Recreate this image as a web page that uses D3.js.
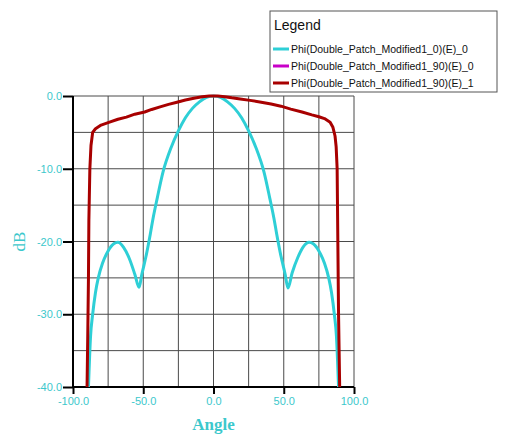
<!DOCTYPE html>
<html>
<head>
<meta charset="utf-8">
<script src="https://cdn.jsdelivr.net/npm/d3@7"></script>
<style>
  body { margin: 0; background: #fff; }
</style>
</head>
<body>
<div id="chart"></div>
<script>
// series: angle (deg) and gain (dB)
const cyanAngle = [-89, -87.5, -86, -84, -82, -79, -75, -71, -68, -64, -60, -56, -53, -51, -48, -45, -43, -40, -36, -30, -25, -20, -15, -10, -5, 0, 5, 10, 15, 20, 25, 30, 36, 40, 43, 45, 48, 51, 53, 56, 60, 64, 68, 71, 75, 79, 82, 84, 86, 87.5, 89]
const cyanDb = [-40, -33, -30, -27, -25, -23, -21.3, -20.3, -20.1, -20.8, -22.3, -24.5, -26.3, -24.5, -22, -19, -16.8, -14, -10.5, -7, -4.8, -3, -1.7, -0.8, -0.2, 0, -0.2, -0.8, -1.7, -3, -4.8, -7, -10.5, -14, -16.8, -19, -22, -24.5, -26.4, -24.3, -22.2, -20.7, -20.1, -20.3, -21.3, -23, -25, -27, -30, -33, -40]

const redAngle = [-90, -89.5, -89, -88.7, -88, -87.2, -86, -84, -80, -74, -68, -62, -56, -49, -44, -38, -32, -26, -20, -14, -8, -3, 3, 8, 13, 19, 26, 34, 41, 48, 55, 63, 70, 75, 79, 83, 85, 86.5, 87.3, 88, 88.5, 89, 89.8]
const redDb = [-40, -33, -25, -17, -10, -6.8, -5, -4.5, -4, -3.6, -3.2, -2.9, -2.5, -2.2, -1.85, -1.5, -1.15, -0.85, -0.55, -0.3, -0.1, 0, 0, -0.1, -0.25, -0.4, -0.6, -0.85, -1.1, -1.4, -1.8, -2.2, -2.6, -2.85, -3.1, -3.6, -4.3, -5.5, -7, -10, -20, -30, -40]

const legendNames = [
  'Phi(Double_Patch_Modified1_0)(E)_0',
  'Phi(Double_Patch_Modified1_90)(E)_0',
  'Phi(Double_Patch_Modified1_90)(E)_1'
]
const legendColors = ['#2ecfd6', '#c800c8', '#a80000']

const xTicks = [-100, -50, 0, 50, 100]
const yTicks = [0, -10, -20, -30, -40]
const xGrid = [-75, -50, -25, 0, 25, 50, 75, 100]
const yGrid = [0, -5, -10, -15, -20, -25, -30, -35]

const labelColor = '#3cc8cc'
const fmt = d => d.toFixed(1)   // plain hyphen minus, like the original

const W = 520, H = 440
const svg = d3.select('#chart').append('svg')
  .attr('width', W).attr('height', H)
  .style('font-family', 'Arial, "Liberation Sans", sans-serif')

const x = d3.scaleLinear().domain([-100, 100]).range([73, 354])
const y = d3.scaleLinear().domain([-40, 0]).range([387, 96])

// grid
svg.append('g').selectAll('line').data(xGrid).join('line')
  .attr('x1', d => x(d)).attr('x2', d => x(d))
  .attr('y1', y(0)).attr('y2', y(-40))
  .attr('stroke', '#4a4a4a').attr('stroke-width', 1)
svg.append('g').selectAll('line').data(yGrid).join('line')
  .attr('x1', x(-100)).attr('x2', x(100))
  .attr('y1', d => y(d)).attr('y2', d => y(d))
  .attr('stroke', '#4a4a4a').attr('stroke-width', 1)

// axes
const xAxis = svg.append('g')
  .attr('transform', `translate(0,${y(-40)})`)
  .call(d3.axisBottom(x).tickValues(xTicks).tickSize(7).tickPadding(3).tickFormat(fmt))
const yAxis = svg.append('g')
  .attr('transform', `translate(${x(-100)},0)`)
  .call(d3.axisLeft(y).tickValues(yTicks).tickSize(10).tickPadding(1).tickFormat(fmt))

for (const ax of [xAxis, yAxis]) {
  ax.select('.domain').attr('stroke', '#000').attr('stroke-width', 2)
  ax.selectAll('.tick line').attr('stroke', '#000').attr('stroke-width', 2)
  ax.selectAll('.tick text').attr('fill', labelColor).style('font-size', '11px')
    .style('font-family', 'Arial, "Liberation Sans", sans-serif')
}
xAxis.select('.domain').attr('d', `M${x(-100)},0H${x(100)}`)
yAxis.select('.domain').attr('d', `M0,${y(0)}V${y(-40)}`)

// curves
const line = d3.line()
  .x(d => x(d[0])).y(d => y(d[1]))
  .curve(d3.curveMonotoneX)

svg.append('path')
  .datum(d3.zip(cyanAngle, cyanDb))
  .attr('fill', 'none').attr('stroke', legendColors[0]).attr('stroke-width', 3)
  .attr('d', line)

svg.append('path')
  .datum(d3.zip(redAngle, redDb))
  .attr('fill', 'none').attr('stroke', legendColors[2]).attr('stroke-width', 3)
  .attr('stroke-linejoin', 'round')
  .attr('d', d3.line().x(d => x(d[0])).y(d => y(d[1])))

// axis titles
svg.append('text')
  .attr('x', x(0)).attr('y', 430)
  .attr('text-anchor', 'middle')
  .attr('fill', labelColor)
  .style('font-family', '"Liberation Serif", "DejaVu Serif", serif')
  .style('font-size', '17px').style('font-weight', 'bold')
  .text('Angle')

svg.append('text')
  .attr('transform', `translate(25,${y(-20)}) rotate(-90)`)
  .attr('text-anchor', 'middle')
  .attr('fill', labelColor)
  .style('font-family', '"Liberation Serif", "DejaVu Serif", serif')
  .style('font-size', '17px')
  .text('dB')

// legend
const lg = svg.append('g').attr('transform', 'translate(270,11)')
lg.append('rect')
  .attr('width', 227).attr('height', 81)
  .attr('fill', '#fff').attr('stroke', '#555').attr('stroke-width', 1)
lg.append('text')
  .attr('x', 4).attr('y', 19)
  .style('font-size', '14px').attr('fill', '#111')
  .text('Legend')
const items = lg.selectAll('g.item').data(legendNames).join('g')
  .attr('class', 'item')
  .attr('transform', (d, i) => `translate(0,${38 + i * 17})`)
items.append('line')
  .attr('x1', 3).attr('x2', 19).attr('y1', 0).attr('y2', 0)
  .attr('stroke', (d, i) => legendColors[i]).attr('stroke-width', 3)
items.append('text')
  .attr('x', 21).attr('y', 4)
  .style('font-size', '10.5px').attr('fill', '#111')
  .text(d => d)
</script>
</body>
</html>
